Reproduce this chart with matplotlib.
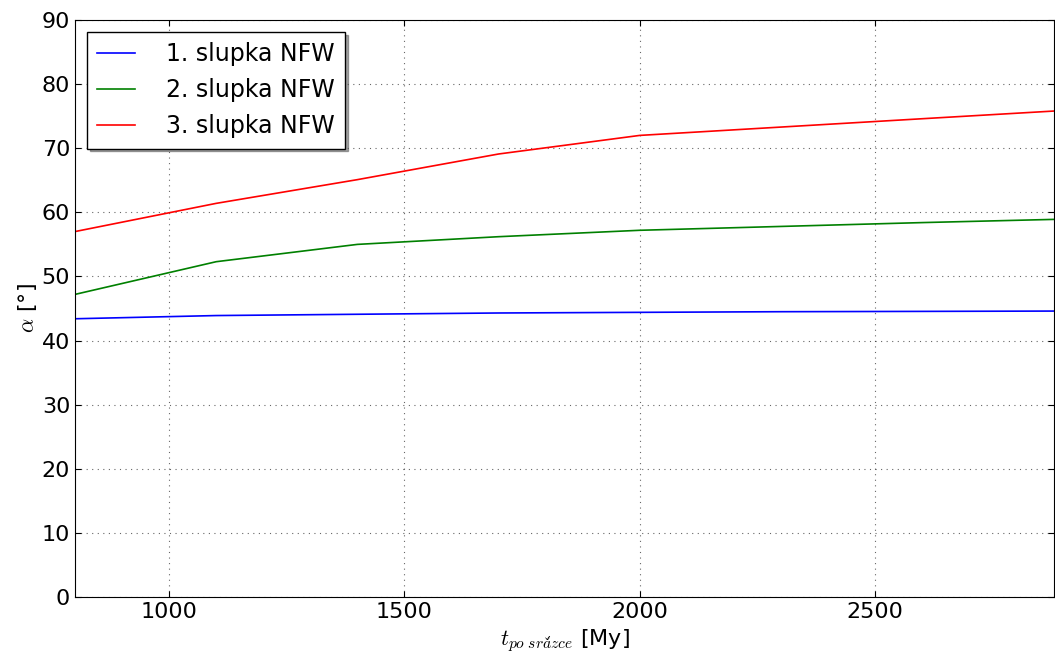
import matplotlib
matplotlib.use("Agg")
import matplotlib.pyplot as plt

# data
t = [800, 1100, 1400, 1700, 2000, 2300, 2600, 2880]
alpha_1 = [43.4, 43.9, 44.1, 44.3, 44.4, 44.5, 44.55, 44.6]
alpha_2 = [47.2, 52.3, 55.0, 56.2, 57.2, 57.8, 58.4, 58.9]
alpha_3 = [57.0, 61.4, 65.1, 69.1, 72.0, 73.3, 74.6, 75.8]
labels = ['1. slupka NFW', '2. slupka NFW', '3. slupka NFW']
colors = ['blue', 'green', 'red']

plt.rcParams['mathtext.fontset'] = 'cm'
plt.rcParams['xtick.direction'] = 'in'
plt.rcParams['ytick.direction'] = 'in'
plt.rcParams['font.size'] = 16

fig = plt.figure(figsize=(10.55, 6.62), dpi=100)
ax = fig.add_axes([75 / 1055, 65 / 662, 979 / 1055, 577 / 662])

for y, lab, c in zip([alpha_1, alpha_2, alpha_3], labels, colors):
    ax.plot(t, y, color=c, linewidth=1.2, label=lab)

ax.set_xlim(800, 2880)
ax.set_ylim(0, 90)
ax.set_xticks([1000, 1500, 2000, 2500])
ax.set_yticks(range(0, 91, 10))
ax.tick_params(labelsize=16, length=4, top=True, right=True)
ax.grid(True, color='black', linestyle=(0, (1, 4)), linewidth=0.8, alpha=0.6)

ax.set_xlabel(r'$t_{po\ sr\acute{a}\check{z}ce}$ [My]', fontsize=16)
ax.set_ylabel(r'$\alpha$ [°]', fontsize=16, labelpad=2)

leg = ax.legend(loc='upper left', fontsize=17, shadow=True, fancybox=False,
                framealpha=1, edgecolor='black', handlelength=1.6,
                handletextpad=1.3, borderaxespad=0.5, borderpad=0.45,
                labelspacing=0.5)
leg.get_frame().set_linewidth(1.0)

fig.savefig('out.png', dpi=100)
